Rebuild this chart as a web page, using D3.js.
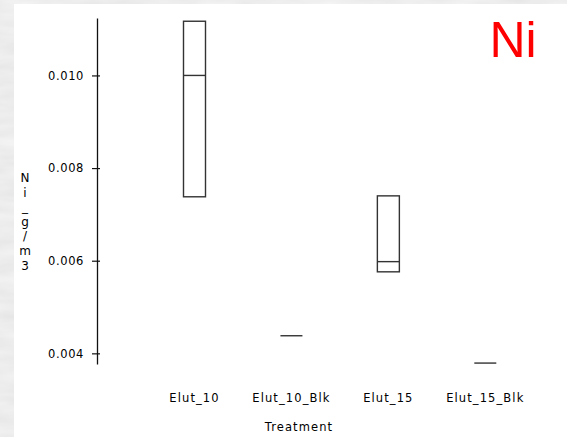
<!DOCTYPE html>
<html><head><meta charset="utf-8">
<script src="https://cdn.jsdelivr.net/npm/d3@7"></script>
<style>
html,body{margin:0;padding:0;background:#e4e4e4;}
svg{display:block;}
</style></head>
<body>
<script>
const categories = ["Elut_10", "Elut_10_Blk", "Elut_15", "Elut_15_Blk"];
const lowerQ = [0.00738, 0.00438, 0.00576, 0.00379];
const medians = [0.0100, 0.00438, 0.00598, 0.00379];
const upperQ = [0.01117, 0.00438, 0.00740, 0.00379];
const yTicks = [0.004, 0.006, 0.008, 0.010];
const yLabelChars = ["N", "i", "_", "g", "/", "m", "3"];
const xTitle = "Treatment";
const panelTitle = "Ni";

const W = 567, H = 437;
const svg = d3.select("body").append("svg").attr("width", W).attr("height", H);

// textured background
const defs = svg.append("defs");
const filt = defs.append("filter").attr("id", "tex");
filt.append("feTurbulence").attr("type", "fractalNoise").attr("baseFrequency", "0.02 0.08").attr("numOctaves", 3).attr("seed", 4);
filt.append("feColorMatrix").attr("type", "matrix")
  .attr("values", "0 0 0 0 0.93  0 0 0 0 0.93  0 0 0 0 0.93  0 0 0 -0.9 0.95");
svg.append("rect").attr("width", W).attr("height", H).attr("fill", "#e2e2e2");
svg.append("rect").attr("width", W).attr("height", H).attr("filter", "url(#tex)");
svg.append("rect").attr("x", 14).attr("y", 4).attr("width", W - 14).attr("height", H - 4).attr("fill", "#ffffff");

const x = d3.scalePoint().domain(categories).range([194.5, 485.3]);
const y = d3.scaleLinear().domain([0.00377, 0.01124]).range([364, 18]);
const boxW = 22;
const font = "'DejaVu Sans', sans-serif";

// y axis
const axisX = 97;
const ax = svg.append("g").attr("transform", `translate(${axisX},0)`)
  .call(d3.axisLeft(y).tickValues(yTicks).tickFormat(d3.format(".3f")).tickSizeInner(5).tickSizeOuter(0).tickPadding(8));
ax.select(".domain").attr("stroke", "#111").attr("stroke-width", 1.3);
ax.selectAll(".tick line").attr("x1", 3).attr("stroke", "#111").attr("stroke-width", 1.2);
ax.selectAll(".tick text").attr("font-family", font).attr("font-size", 11.5).attr("fill", "#000").attr("letter-spacing", 0.6);

// y label stacked
svg.append("g").selectAll("text").data(yLabelChars).join("text")
  .attr("x", 25).attr("y", (d, i) => 182 + i * 14.6)
  .attr("text-anchor", "middle").attr("font-family", font).attr("font-size", 12).attr("fill", "#000")
  .text(d => d);

// boxes
const g = svg.append("g");
categories.forEach((c, i) => {
  const cx = x(c);
  if (upperQ[i] > lowerQ[i]) {
    g.append("rect").attr("x", cx - boxW / 2).attr("y", y(upperQ[i]))
      .attr("width", boxW).attr("height", y(lowerQ[i]) - y(upperQ[i]))
      .attr("fill", "none").attr("stroke", "#333").attr("stroke-width", 1.4);
  }
  g.append("line").attr("x1", cx - boxW / 2).attr("x2", cx + boxW / 2)
    .attr("y1", y(medians[i])).attr("y2", y(medians[i]))
    .attr("stroke", "#333").attr("stroke-width", 1.4);
});

// category labels
svg.append("g").selectAll("text").data(categories).join("text")
  .attr("x", d => x(d)).attr("y", 402)
  .attr("text-anchor", "middle").attr("font-family", font).attr("font-size", 11.5)
  .attr("letter-spacing", 1.1).attr("fill", "#000").text(d => d);

svg.append("text").attr("x", 299).attr("y", 431).attr("text-anchor", "middle")
  .attr("font-family", font).attr("font-size", 11.5).attr("letter-spacing", 1.1).attr("fill", "#000").text(xTitle);

svg.append("text").attr("x", 489.5).attr("y", 56.7)
  .attr("font-family", "'Liberation Sans', Arial, sans-serif").attr("font-size", 50)
  .attr("fill", "#ff0000").text(panelTitle);
</script>
</body></html>
